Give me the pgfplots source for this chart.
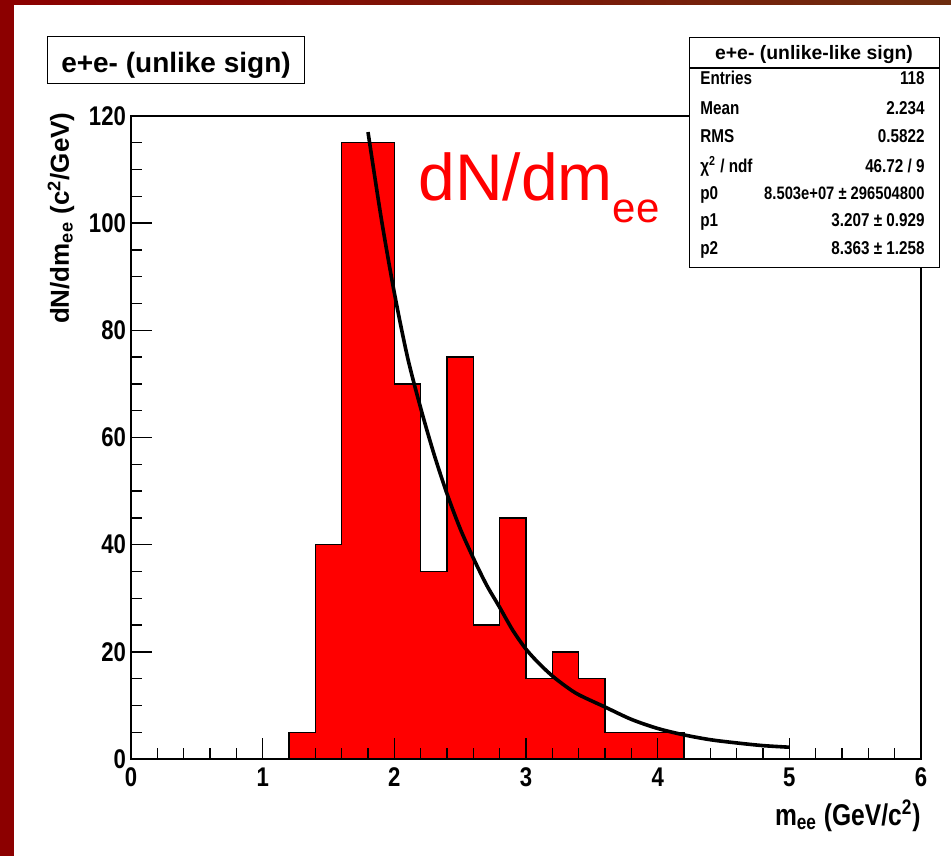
\documentclass[border=0pt]{standalone}
\usepackage{fontspec}
\setmainfont{Liberation Sans}
\newfontfamily\rootfont{Liberation Sans}[FakeStretch=0.82]
\usepackage{pgfplots}
\pgfplotsset{compat=1.18}
\definecolor{slideframe}{RGB}{140,0,0}
\definecolor{slidetop}{RGB}{110,45,15}
\definecolor{rootred}{RGB}{255,0,0}

\begin{document}
\begin{tikzpicture}
% page decoration, in pixel units of the 951x856 slide
\begin{scope}[x=0.5pt, y=-0.5pt, shift={(-131,-759)}]
  \fill[slideframe] (0,0) rectangle (14,856);
  \shade[left color=slideframe, right color=slidetop] (0,0) rectangle (951,5);
\end{scope}

\begin{axis}[
    at={(0,0)}, anchor=south west,
    width=395pt, height=321.5pt, scale only axis,
    xmin=0, xmax=6, ymin=0, ymax=120,
    xtick={0,1,...,6}, ytick={0,20,...,120},
    minor x tick num=4, minor y tick num=3,
    tick align=inside, xtick pos=bottom, ytick pos=left,
    major tick length=10.5pt, minor tick length=5.5pt,
    axis on top,
    axis line style={line width=0.8pt},
    every tick/.style={black, line width=0.7pt},
    tick label style={font=\rootfont\bfseries\fontsize{13.5}{13.5}\selectfont},
    /pgf/number format/assume math mode=true,
    xticklabel style={yshift=-1pt},
    yticklabel style={xshift=1pt},
    xlabel={m\textsubscript{ee} (GeV/c\textsuperscript{2})},
    xlabel style={at={(rel axis cs:1,0)}, anchor=base east, yshift=-33pt,
        inner sep=0pt, font=\rootfont\bfseries\fontsize{15}{15}\selectfont},
    ylabel={dN/dm\textsubscript{ee} (c\textsuperscript{2}/GeV)},
    ylabel style={at={(rel axis cs:0,1)}, rotate=0, anchor=base east,
        xshift=2pt, yshift=31pt, inner sep=0pt,
        font=\bfseries\fontsize{13}{13}\selectfont},
]
% histogram, step outline (bin edges, dN/dm per bin)
\addplot[const plot mark left, fill=rootred, draw=black, line width=0.7pt]
coordinates {
    (1.2,0) (1.2,5) (1.4,40) (1.6,115) (1.8,115) (2.0,70) (2.2,35)
    (2.4,75) (2.6,25) (2.8,45) (3.0,15) (3.2,20) (3.4,15) (3.6,5)
    (3.8,5) (4.0,5) (4.2,0)
} \closedcycle;
% fit
\addplot[smooth, black, line width=1.8pt] coordinates {
    (1.8,117) (1.9,101) (2.0,87) (2.1,75) (2.2,65.5) (2.3,57) (2.4,49.5)
    (2.5,43) (2.6,37.5) (2.7,32.5) (2.8,28.3) (2.9,24) (3.0,20.5)
    (3.1,17.8) (3.2,15.5) (3.3,13.6) (3.4,12) (3.6,9.7) (3.8,7.4)
    (4.0,5.7) (4.2,4.5) (4.4,3.6) (4.6,3.0) (4.8,2.5) (5.0,2.2)
};
\node[anchor=base west, inner sep=0pt, text=rootred] at (axis cs:2.18,104.3)
    {\fontsize{33}{33}\selectfont dN/dm\raisebox{-11pt}{\fontsize{21}{21}\selectfont ee}};
\end{axis}

% title and stats boxes
\begin{scope}[x=0.5pt, y=-0.5pt, shift={(-131,-759)}]
  \fill[white] (48,37) rectangle (304,84);
  \draw[line width=0.5pt] (48,37) rectangle (304,84);
  \node[anchor=base, inner sep=0pt, font=\bfseries\fontsize{14}{14}\selectfont]
      at (176,73) {e+e- (unlike sign)};

  \fill[white] (689,38) rectangle (939,268);
  \draw[line width=0.5pt] (689,38) rectangle (939,268);
  \draw[line width=0.6pt] (689,68) -- (939,68);
  \node[anchor=base, inner sep=0pt, font=\bfseries\fontsize{9.7}{9.7}\selectfont]
      at (814,60) {e+e- (unlike-like sign)};
  \begin{scope}[every node/.style={inner sep=0pt, font=\rootfont\bfseries\fontsize{9.3}{9.3}\selectfont}]
    \node[anchor=base west] at (700,85) {Entries};
    \node[anchor=base east] at (925,85) {118};
    \node[anchor=base west] at (700,115) {Mean};
    \node[anchor=base east] at (925,115) {2.234};
    \node[anchor=base west] at (700,143) {RMS};
    \node[anchor=base east] at (925,143) {0.5822};
    \node[anchor=base west] at (700,173) {χ\textsuperscript{2} / ndf};
    \node[anchor=base east] at (925,173) {46.72 / 9};
    \node[anchor=base west] at (700,200) {p0};
    \node[anchor=base east] at (925,200) {\fontsize{9}{9}\selectfont 8.503e+07 ± 296504800};
    \node[anchor=base west] at (700,227) {p1};
    \node[anchor=base east] at (925,227) {3.207 ± 0.929};
    \node[anchor=base west] at (700,255) {p2};
    \node[anchor=base east] at (925,255) {8.363 ± 1.258};
  \end{scope}
  \pgfresetboundingbox
  \path[use as bounding box] (0,0) rectangle (951,856);
\end{scope}
\end{tikzpicture}
\end{document}
